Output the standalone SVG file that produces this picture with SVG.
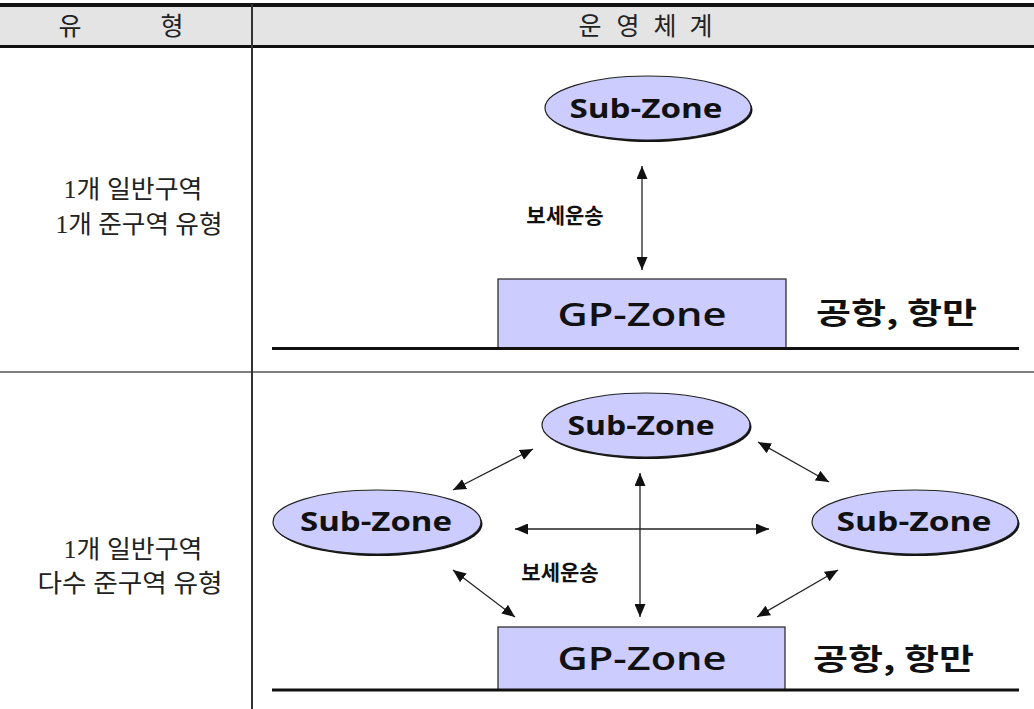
<svg xmlns="http://www.w3.org/2000/svg" width="1034" height="709" viewBox="0 0 1034 709">
  <defs>
    <marker id="head" viewBox="0 0 13 11" refX="13" refY="5.5" markerWidth="13" markerHeight="11" markerUnits="userSpaceOnUse" orient="auto-start-reverse">
      <path d="M0,0 L13,5.5 L0,11 z" fill="#111"/>
    </marker>
    <style>
      .hdr { font-family: "Liberation Serif", "Noto Sans CJK KR", serif; font-size: 25px; fill: #222; text-anchor: middle; }
      .lbl { font-family: "Liberation Serif", "Noto Sans CJK KR", serif; font-size: 25px; fill: #222; text-anchor: middle; }
      .zone { fill: #ccccff; stroke: #222; stroke-width: 1.2; }
      .shadow { fill: #111; }
      .sub { font-family: "Open Sans", "Liberation Sans", sans-serif; font-weight: 700; font-size: 27px; fill: #111; text-anchor: middle; }
      .gp { font-family: "Open Sans", "Liberation Sans", sans-serif; font-weight: 600; font-size: 33px; fill: #111; text-anchor: middle; }
      .place { font-family: "Noto Sans CJK KR", sans-serif; font-weight: bold; font-size: 29px; fill: #111; }
      .trans { font-family: "Noto Sans CJK KR", sans-serif; font-weight: bold; font-size: 21px; fill: #111; text-anchor: middle; }
      .arrow { stroke: #222; stroke-width: 1.3; fill: none; marker-start: url(#head); marker-end: url(#head); }
      .ground { stroke: #111; stroke-width: 3; }
    </style>
  </defs>

  <!-- table frame -->
  <g id="table">
    <rect x="0" y="7" width="1034" height="38" fill="#e4e4e4"/>
    <line x1="0" y1="5" x2="1034" y2="5" stroke="#111" stroke-width="4"/>
    <line x1="0" y1="46.5" x2="1034" y2="46.5" stroke="#111" stroke-width="3"/>
    <line x1="0" y1="372" x2="1034" y2="372" stroke="#555" stroke-width="1.5"/>
    <line x1="252" y1="4" x2="252" y2="709" stroke="#333" stroke-width="2"/>
    <text class="hdr" x="70" y="35">유</text>
    <text class="hdr" x="172" y="35">형</text>
    <text class="hdr" x="590" y="35">운</text>
    <text class="hdr" x="628" y="35">영</text>
    <text class="hdr" x="665" y="35">체</text>
    <text class="hdr" x="701" y="35">계</text>
  </g>

  <!-- row labels -->
  <g id="row1-label">
    <text class="lbl" x="133" y="198" textLength="139" lengthAdjust="spacingAndGlyphs">1개 일반구역</text>
    <text class="lbl" x="139" y="233" textLength="167" lengthAdjust="spacingAndGlyphs">1개 준구역 유형</text>
  </g>
  <g id="row2-label">
    <text class="lbl" x="133" y="558" textLength="139" lengthAdjust="spacingAndGlyphs">1개 일반구역</text>
    <text class="lbl" x="130" y="592" textLength="185" lengthAdjust="spacingAndGlyphs">다수 준구역 유형</text>
  </g>

  <!-- row 1: one sub-zone -->
  <g id="r1-sub">
    <ellipse class="shadow" cx="649.5" cy="110" rx="103" ry="32"/>
    <ellipse class="zone" cx="648" cy="108" rx="103" ry="32"/>
    <text class="sub" x="646" y="118" textLength="153" lengthAdjust="spacingAndGlyphs">Sub-Zone</text>
  </g>
  <g id="r1-gp">
    <rect class="zone" x="498" y="279" width="288" height="69" stroke="#333"/>
    <text class="gp" x="642" y="326" textLength="169" lengthAdjust="spacingAndGlyphs">GP-Zone</text>
  </g>
  <g id="r1-place">
    <text class="place" x="816" y="324" textLength="161" lengthAdjust="spacingAndGlyphs">공항, 항만</text>
  </g>

  <!-- row 2: several sub-zones -->
  <g id="r2-sub-top">
    <ellipse class="shadow" cx="647.5" cy="427" rx="104" ry="32"/>
    <ellipse class="zone" cx="646" cy="425" rx="104" ry="32"/>
    <text class="sub" x="641" y="435" textLength="147" lengthAdjust="spacingAndGlyphs">Sub-Zone</text>
  </g>
  <g id="r2-sub-left">
    <ellipse class="shadow" cx="378.5" cy="524" rx="104" ry="32"/>
    <ellipse class="zone" cx="377" cy="522" rx="104" ry="32"/>
    <text class="sub" x="376" y="531" textLength="152" lengthAdjust="spacingAndGlyphs">Sub-Zone</text>
  </g>
  <g id="r2-sub-right">
    <ellipse class="shadow" cx="916.5" cy="524" rx="103" ry="32"/>
    <ellipse class="zone" cx="915" cy="522" rx="103" ry="32"/>
    <text class="sub" x="914" y="531" textLength="155" lengthAdjust="spacingAndGlyphs">Sub-Zone</text>
  </g>
  <g id="r2-gp">
    <rect class="zone" x="498" y="627" width="287" height="63" stroke="#333"/>
    <text class="gp" x="642" y="670" textLength="169" lengthAdjust="spacingAndGlyphs">GP-Zone</text>
  </g>
  <g id="r2-place">
    <text class="place" x="813" y="670" textLength="161" lengthAdjust="spacingAndGlyphs">공항, 항만</text>
  </g>

  <!-- ground lines -->
  <g id="ground">
    <line class="ground" x1="272" y1="348.5" x2="1019" y2="348.5"/>
    <line class="ground" x1="272" y1="690" x2="1019" y2="690"/>
  </g>

  <!-- connectors -->
  <g id="connectors">
    <line class="arrow" x1="642" y1="166" x2="642" y2="270"/>
    <line class="arrow" x1="640" y1="473" x2="640" y2="617"/>
    <line class="arrow" x1="515" y1="529" x2="769" y2="529"/>
    <line class="arrow" x1="453" y1="490" x2="533" y2="449"/>
    <line class="arrow" x1="758" y1="442" x2="829" y2="482"/>
    <line class="arrow" x1="453" y1="570" x2="515" y2="617"/>
    <line class="arrow" x1="838" y1="570" x2="757" y2="617"/>
  </g>

  <!-- transport labels -->
  <g id="labels">
    <text class="trans" x="565" y="223">보세운송</text>
    <text class="trans" x="560" y="580">보세운송</text>
  </g>
</svg>
